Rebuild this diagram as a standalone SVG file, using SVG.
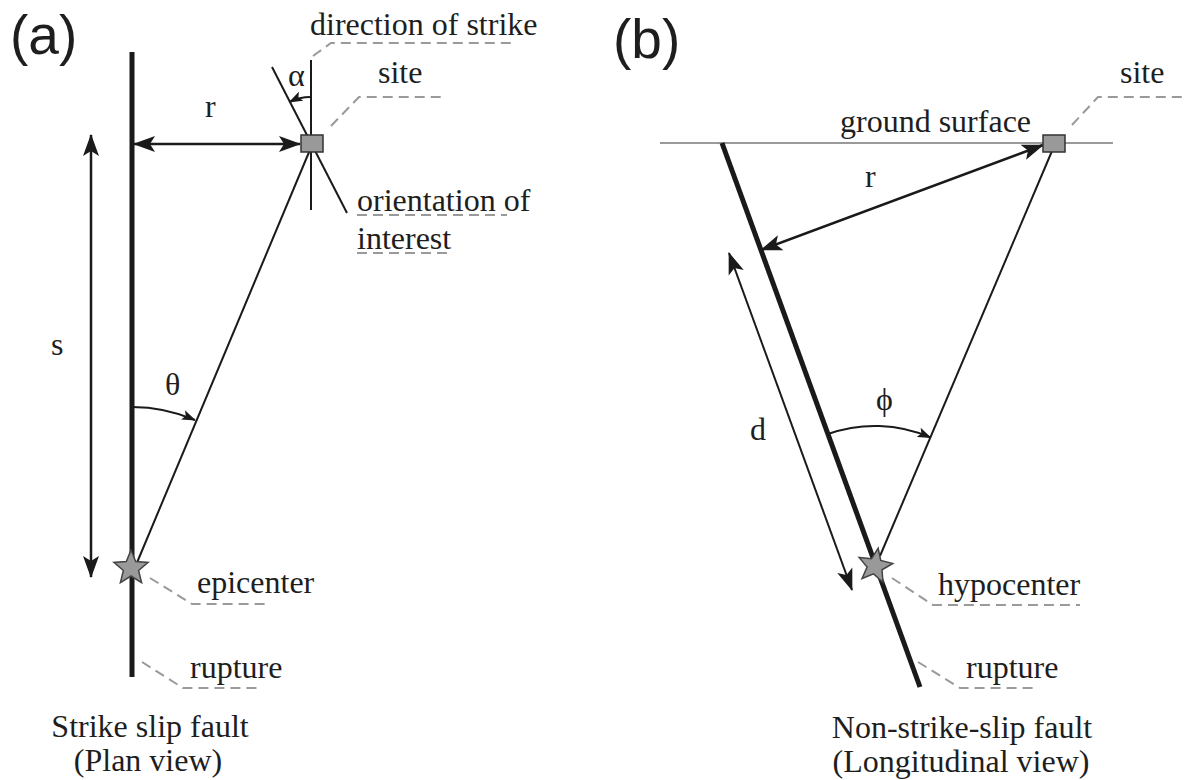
<svg xmlns="http://www.w3.org/2000/svg" width="1184" height="780" viewBox="0 0 1184 780">
<style>
.lbl{font-family:"Liberation Serif","Times New Roman",serif;font-size:32px;fill:#1e1e1e}
.pan{font-family:"Liberation Sans",Arial,sans-serif;font-size:55px;fill:#1e1e1e}
.fault{stroke:#1a1a1a;stroke-width:5;fill:none}
.thin{stroke:#1a1a1a;stroke-width:2;fill:none}
.arr{stroke:#1a1a1a;stroke-width:2.5;fill:none}
.lead{stroke:#9a9a9a;stroke-width:2;fill:none;stroke-dasharray:10 6}
.ground{stroke:#9a9a9a;stroke-width:2}
.site{fill:#999;stroke:#333;stroke-width:1.5}
.star{fill:#999;stroke:#444;stroke-width:1.5;stroke-linejoin:miter}
</style>
<defs>
<marker id="ah" markerUnits="userSpaceOnUse" viewBox="0 0 22 18" markerWidth="22" markerHeight="18" refX="21" refY="9" orient="auto-start-reverse">
<path d="M0,1 L22,9 L0,17 L5,9 z" fill="#1a1a1a"/>
</marker>
<marker id="sm" markerUnits="userSpaceOnUse" viewBox="0 0 14 10" markerWidth="14" markerHeight="10" refX="13" refY="5" orient="auto-start-reverse">
<path d="M0,0 L14,5 L0,10 L3,5 z" fill="#1a1a1a"/>
</marker>
<polygon id="starShape" class="star" points="0,-18 4.7,-6.5 17.1,-5.6 7.6,2.5 10.6,14.6 0,8 -10.6,14.6 -7.6,2.5 -17.1,-5.6 -4.7,-6.5"/>
</defs>

<g id="connectors">
<line class="arr" x1="134" y1="144" x2="300" y2="144" marker-start="url(#ah)" marker-end="url(#ah)"/>
<line class="arr" x1="91" y1="135" x2="91" y2="577" marker-start="url(#ah)" marker-end="url(#ah)"/>
<line class="thin" x1="312" y1="145" x2="136" y2="565"/>
<path class="thin" d="M132,407 A161,161 0 0,1 195,420" marker-end="url(#sm)"/>
<path class="thin" d="M311,97 A47,47 0 0,0 289.5,102" marker-end="url(#sm)"/>
<line class="arr" x1="761" y1="250" x2="1043" y2="145" marker-start="url(#ah)" marker-end="url(#ah)"/>
<line class="thin" x1="1052" y1="151" x2="880" y2="556"/>
<line class="thin" x1="729" y1="253" x2="852" y2="590" stroke-width="1.8" marker-start="url(#ah)" marker-end="url(#ah)"/>
<path class="thin" d="M828,434 A140,140 0 0,1 930.6,437.5" marker-end="url(#sm)"/>
<polyline class="lead" points="313,56 331,43 512,43"/>
<polyline class="lead" points="331,126 359,97 441,97"/>
<line class="lead" x1="357" y1="215" x2="507" y2="215"/>
<line class="lead" x1="357" y1="253" x2="450" y2="253"/>
<polyline class="lead" points="150,578 192,604 265,604"/>
<polyline class="lead" points="142,662 183,688 258,688"/>
<polyline class="lead" points="1072,125 1098,97 1182,97"/>
<polyline class="lead" points="892,578 933,605 1080,605"/>
<polyline class="lead" points="918,662 960,688 1033,688"/>
</g>

<g id="panel-a">
<text class="pan" x="10" y="54">(a)</text>
<line id="rupture-a" class="fault" x1="132" y1="52" x2="132" y2="677"/>
<line id="strike-dir" class="thin" x1="311" y1="60" x2="311" y2="210"/>
<line id="orientation" class="thin" x1="272" y1="67" x2="347" y2="213"/>
<rect id="site-a" class="site" x="301" y="135" width="22" height="17"/>
<use id="epicenter" href="#starShape" transform="translate(131,568)"/>
<text class="lbl" x="205" y="117">r</text>
<text class="lbl" x="51" y="355">s</text>
<text class="lbl" x="165" y="395">θ</text>
<text class="lbl" x="288" y="86" font-size="28">α</text>
<text class="lbl" x="310" y="35">direction of strike</text>
<text class="lbl" x="378" y="83">site</text>
<text class="lbl" x="357" y="211">orientation of</text>
<text class="lbl" x="357" y="249">interest</text>
<text class="lbl" x="197" y="593">epicenter</text>
<text class="lbl" x="190" y="678">rupture</text>
<text class="lbl" x="150" y="737" text-anchor="middle">Strike slip fault</text>
<text class="lbl" x="148" y="771" text-anchor="middle">(Plan view)</text>
</g>

<g id="panel-b">
<text class="pan" x="613" y="58">(b)</text>
<line id="ground" class="ground" x1="660" y1="143" x2="1113" y2="143"/>
<line id="rupture-b" class="fault" x1="722" y1="143" x2="920" y2="687"/>
<rect id="site-b" class="site" x="1043" y="135" width="22" height="17"/>
<use id="hypocenter" href="#starShape" transform="translate(875,566) rotate(10)"/>
<text class="lbl" x="865" y="187">r</text>
<text class="lbl" x="750" y="440">d</text>
<text class="lbl" x="876" y="410">ϕ</text>
<text class="lbl" x="840" y="132">ground surface</text>
<text class="lbl" x="1120" y="83">site</text>
<text class="lbl" x="938" y="595">hypocenter</text>
<text class="lbl" x="966" y="678">rupture</text>
<text class="lbl" x="962" y="738" text-anchor="middle">Non-strike-slip fault</text>
<text class="lbl" x="961" y="772" text-anchor="middle">(Longitudinal view)</text>
</g>
</svg>
